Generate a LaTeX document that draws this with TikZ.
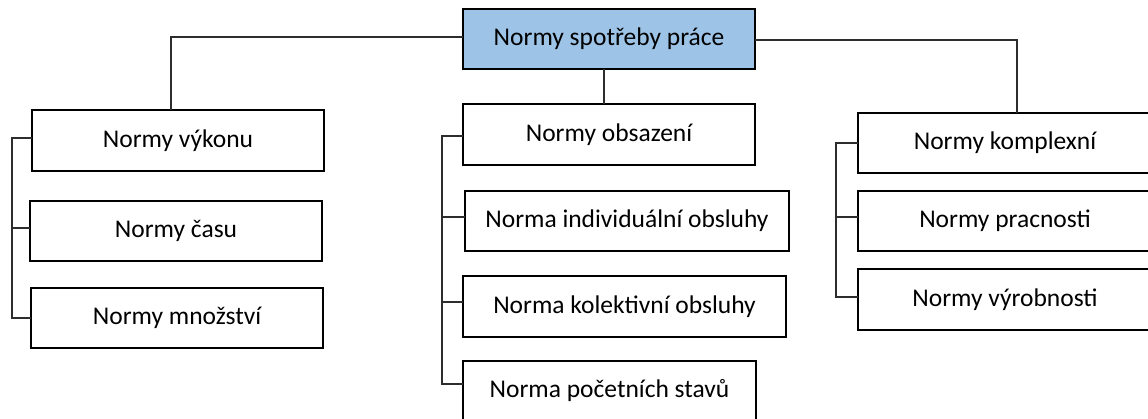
\documentclass[tikz,border=0pt]{standalone}
\usepackage{fontspec}
\setmainfont{Carlito}
\definecolor{headfill}{RGB}{157,195,230}
\definecolor{linkgray}{RGB}{45,45,45}
\tikzset{
  box/.style={draw=black, line width=2.6pt, fill=white, rectangle, inner sep=0pt, outer sep=0pt,
              minimum height=60pt, font=\fontsize{25.5}{29}\selectfont, text=black},
  headbox/.style={box, fill=headfill},
  link/.style={draw=linkgray, line width=1.3pt}
}
\begin{document}
\begin{tikzpicture}[x=1pt,y=-1pt]
\useasboundingbox (0,0) rectangle (1148,418);
\clip (0,0) rectangle (1148,418);

% root
\node[headbox, minimum width=292pt] (top) at (609,39) {Normy spotřeby práce};

% left branch
\node[box, minimum width=292pt, minimum height=61pt] (vykon) at (178,140.5) {Normy výkonu};
\node[box, minimum width=292pt] (cas) at (176,231) {Normy času};
\node[box, minimum width=292pt] (mnoz) at (177,318) {Normy množství};

% middle branch
\node[box, minimum width=292pt, minimum height=61pt] (obs) at (609,134.5) {Normy obsazení};
\node[box, minimum width=324pt] (indiv) at (627,221) {Norma individuální obsluhy};
\node[box, minimum width=323pt, minimum height=61pt] (kolekt) at (624.5,306.5) {Norma kolektivní obsluhy};
\node[box, minimum width=293pt] (pocet) at (609.5,391) {Norma početních stavů};

% right branch
\node[box, minimum width=294pt] (kompl) at (1005,143) {Normy komplexní};
\node[box, minimum width=294pt] (pracn) at (1005,221) {Normy pracnosti};
\node[box, minimum width=294pt, minimum height=61pt] (vyrob) at (1005,299.5) {Normy výrobnosti};

% bracket spines
\coordinate (lspine) at (12,0);
\coordinate (mspine) at (442,0);
\coordinate (rspine) at (836,0);

% root to branch heads
\draw[link] ([yshift=2pt]top.west) -| ([xshift=-7pt]vykon.north);
\draw[link] ([yshift=-1pt]top.east) -| ([xshift=12pt]kompl.north);
\draw[link] ([xshift=-5pt]top.south) -- ([xshift=-5pt]obs.north);

% left bracket
\draw[link] ([yshift=2.5pt]vykon.west) -- ([yshift=2.5pt]vykon.west -| lspine) |- (mnoz.west);
\draw[link] ([yshift=3pt]cas.west) -- ([yshift=3pt]cas.west -| lspine);

% middle bracket
\draw[link] ([yshift=-1.5pt]obs.west) -- ([yshift=-1.5pt]obs.west -| mspine) |- ([yshift=7pt]pocet.west);
\draw[link] ([yshift=4pt]indiv.west) -- ([yshift=4pt]indiv.west -| mspine);
\draw[link] ([yshift=4.5pt]kolekt.west) -- ([yshift=4.5pt]kolekt.west -| mspine);

% right bracket
\draw[link] (kompl.west) -- (kompl.west -| rspine) |- ([yshift=2.5pt]vyrob.west);
\draw[link] ([yshift=4pt]pracn.west) -- ([yshift=4pt]pracn.west -| rspine);
\end{tikzpicture}
\end{document}
